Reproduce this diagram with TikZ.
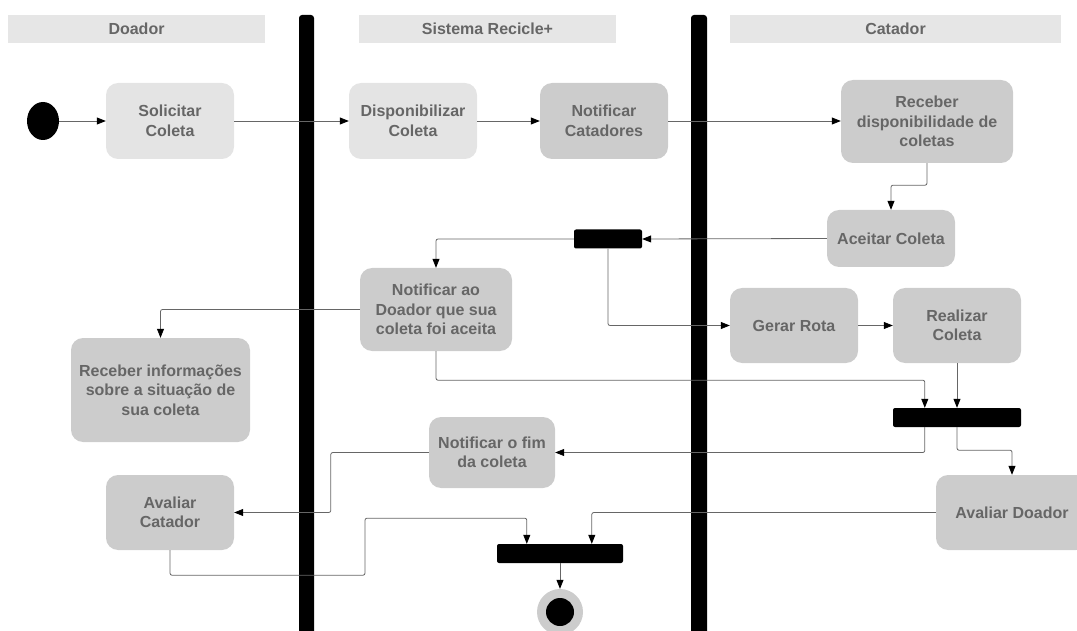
\documentclass[tikz,border=0pt]{standalone}
\usepackage{fontspec}
\setmainfont{Liberation Sans}
\usetikzlibrary{arrows.meta,shapes.geometric}
\definecolor{txtgray}{HTML}{666666}
\definecolor{actgray}{HTML}{CCCCCC}
\definecolor{actlight}{HTML}{E4E4E4}
\definecolor{lanegray}{HTML}{E6E6E6}
\definecolor{linegray}{HTML}{666666}
\begin{document}
\begin{tikzpicture}
        [x=1pt, y=-1pt,
        act/.style={rectangle, rounded corners=12pt, fill=actgray, text=txtgray, align=center,
            font=\fontsize{16}{19.5}\selectfont\bfseries, inner sep=0pt},
        actl/.style={act, fill=actlight},
        lane/.style={rectangle, fill=lanegray, text=txtgray, minimum height=28pt,
            font=\fontsize{16}{19.5}\selectfont\bfseries, inner sep=0pt},
        bar/.style={rectangle, fill=black, rounded corners=2pt, minimum height=19pt, inner sep=0pt},
        flow/.style={draw=linegray, line width=0.8pt, rounded corners=2pt, -{Triangle[length=9pt,width=7pt,black]}}]

        \clip (0,0) rectangle (1077,631);

        % swimlanes
        \node[lane, minimum width=257pt] (hdoador) at (136.5, 29) {Doador};
        \node[lane, minimum width=257pt] (hsistema) at (487.5, 29) {Sistema Recicle+};
        \node[lane, minimum width=331pt] (hcatador) at (895.5, 29) {Catador};
        \fill[rounded corners=3pt] (299,15) rectangle (314,645);
        \fill[rounded corners=3pt] (691,15) rectangle (707,645);

        \node[ellipse, fill=black, minimum width=32pt, minimum height=38pt, inner sep=0pt] (inicio) at (43, 121) {};
        \node[actl, minimum width=128pt, minimum height=76pt] (solicitar) at (170, 121) {Solicitar\\Coleta};
        \node[actl, minimum width=128pt, minimum height=76pt] (disponib) at (413, 121) {Disponibilizar\\Coleta};
        \node[act, minimum width=128pt, minimum height=76pt] (notcat) at (604, 121) {Notificar\\Catadores};
        \node[act, minimum width=172pt, minimum height=83pt] (recdisp) at (927, 121.5) {Receber\\disponibilidade de\\coletas};
        \node[act, minimum width=128pt, minimum height=57pt] (aceitar) at (891, 238.5) {Aceitar Coleta};
        \node[bar, minimum width=68pt] (fork) at (608, 239) {};
        \node[act, minimum width=152pt, minimum height=83pt] (notdoador) at (436, 309.5) {Notificar ao\\Doador que sua\\coleta foi aceita};
        \node[act, minimum width=128pt, minimum height=75pt] (rota) at (794, 325.5) {Gerar Rota};
        \node[act, minimum width=128pt, minimum height=75pt] (realizar) at (957, 325.5) {Realizar\\Coleta};
        \node[act, minimum width=179pt, minimum height=104pt] (recinfo) at (160.5, 390) {Receber informações\\sobre a situação de\\sua coleta};
        \node[bar, minimum width=128pt] (join) at (957, 417.5) {};
        \node[act, minimum width=126pt, minimum height=71pt] (notfim) at (492, 452.5) {Notificar o fim\\da coleta};
        \node[act, minimum width=128pt, minimum height=75pt] (avcatador) at (170, 512.5) {Avaliar\\Catador};
        \node[act, minimum width=152pt, minimum height=75pt] (avdoador) at (1012, 512.5) {Avaliar Doador};
        \node[bar, minimum width=126pt] (final) at (560, 553.5) {};
        \node[circle, fill=actgray, minimum size=46pt, inner sep=0pt] (fim) at (560, 612) {};
        \fill (fim.center) circle (14);

        % fluxo
        \draw[flow] (inicio) -- (solicitar);
        \draw[flow] (solicitar) -- (disponib);
        \draw[flow] (disponib) -- (notcat);
        \draw[flow] (notcat) -- (recdisp.west |- notcat);
        \draw[flow] (recdisp.south) -- ++(0,22) -| (aceitar.north);
        \draw[flow] (aceitar.west) -- (fork.east);
        \draw[flow] (fork.west) -| (notdoador.north);
        \draw[flow] (fork.south) |- (rota.west);
        \draw[flow] (rota) -- (realizar);
        \draw[flow] (realizar) -- (join);
        \draw[flow] (notdoador.west) -| (recinfo.north);
        \draw[flow] (notdoador.south) -- ++(0,29) -| ([xshift=32pt]join.north west);
        \draw[flow] ([xshift=32pt]join.south west) |- (notfim.east);
        \draw[flow] (join.south) -- ++(0,23) -| (avdoador.north);
        \draw[flow] (notfim.west) -- ++(-98,0) |- (avcatador.east);
        \draw[flow] (avcatador.south) -- ++(0,25) -| ++(195,-57) -| ([xshift=30pt]final.north west);
        \draw[flow] (avdoador.west) -| ([xshift=95pt]final.north west);
        \draw[flow] (final) -- (fim);

    \end{tikzpicture}
\end{document}
